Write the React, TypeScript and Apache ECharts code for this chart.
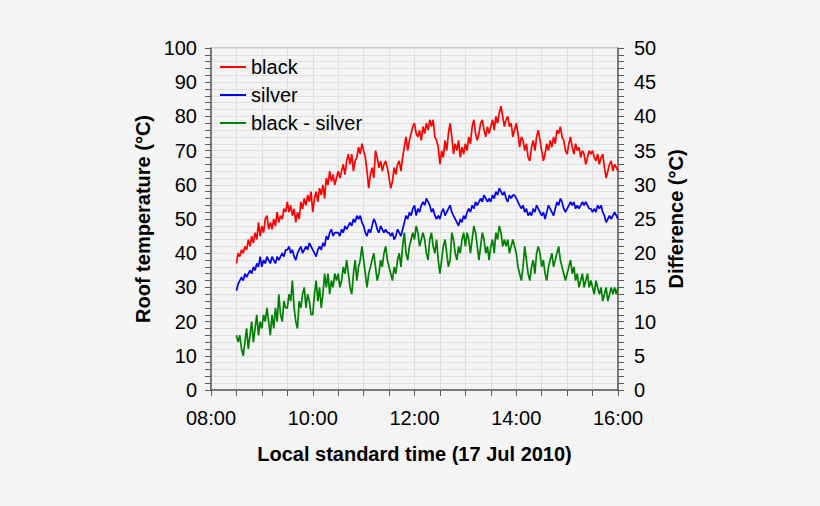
import { useEffect, useRef } from 'react';
import * as echarts from 'echarts';

// minutes after midnight of the first sample, and spacing between samples
const START_MINUTE = 510;
const STEP_MINUTES = 2;

const timeTickLabels = ['08:00', '10:00', '12:00', '14:00', '16:00'];
const seriesNames = ['black', 'silver', 'black - silver'];

// roof temperature of the black roof (°C), 08:30 to 16:00 every 2 min
const blackTemp = [
  37, 40, 39, 41, 40, 42, 41, 44, 42, 45, 43, 46, 44, 49, 45,
  48, 46, 50, 51, 47, 49, 47, 50, 48, 52, 49, 51, 50, 53, 52,
  55, 52, 54, 51, 53, 49, 52, 50, 55, 53, 56, 54, 57, 55, 58,
  52, 56, 58, 55, 59, 57, 60, 56, 62, 60, 64, 61, 63, 60, 62,
  64, 62, 64, 66, 63, 67, 69, 66, 69, 64, 67, 68, 71, 69, 72,
  70, 68, 64, 59, 63, 65, 62, 70, 68, 65, 67, 64, 66, 67, 65,
  62, 59, 61, 65, 63, 66, 67, 64, 68, 71, 74, 70, 73, 75, 77,
  78, 75, 74, 76, 73, 77, 75, 78, 76, 79, 77, 79, 74, 73, 71,
  66, 70, 68, 73, 70, 75, 78, 74, 69, 72, 70, 73, 68, 71, 69,
  72, 70, 74, 72, 77, 79, 75, 73, 75, 78, 79, 76, 74, 77, 75,
  77, 79, 76, 80, 78, 81, 83, 80, 77, 79, 80, 77, 78, 74, 76,
  78, 75, 71, 74, 73, 70, 72, 68, 67, 71, 73, 70, 74, 76, 73,
  70, 67, 69, 72, 70, 73, 71, 74, 72, 76, 75, 77, 74, 73, 70,
  69, 72, 74, 71, 69, 72, 70, 71, 68, 70, 69, 66, 68, 70, 69,
  70, 68, 67, 69, 66, 68, 69, 65, 62, 64, 66, 67, 64, 66, 65,
  64,
];

// roof temperature of the silver roof (°C)
const silverTemp = [
  29, 31, 32, 33, 32, 34, 33, 34, 35, 34, 36, 35, 37, 36, 39,
  36, 38, 37, 39, 38, 37, 39, 38, 37, 39, 38, 39, 40, 39, 41,
  41, 42, 40, 41, 39, 38, 40, 41, 42, 40, 41, 42, 41, 43, 42,
  41, 40, 39, 41, 42, 41, 43, 42, 45, 44, 46, 47, 45, 46, 46,
  46, 45, 47, 46, 48, 47, 48, 49, 48, 50, 49, 51, 50, 51, 49,
  48, 46, 45, 47, 46, 48, 50, 49, 47, 46, 48, 47, 46, 47, 46,
  46, 45, 46, 44, 45, 47, 46, 45, 47, 49, 51, 50, 52, 51, 53,
  54, 51, 53, 52, 54, 55, 54, 56, 55, 54, 52, 53, 51, 50, 51,
  50, 52, 53, 51, 52, 53, 54, 52, 51, 50, 49, 48, 50, 49, 51,
  50, 52, 53, 52, 54, 53, 55, 54, 55, 56, 55, 57, 56, 55, 56,
  55, 57, 56, 58, 57, 59, 58, 57, 58, 56, 55, 57, 56, 57, 57,
  56, 55, 54, 53, 54, 52, 53, 51, 52, 51, 53, 52, 54, 53, 52,
  51, 52, 50, 52, 54, 53, 52, 51, 53, 55, 54, 56, 55, 53, 52,
  53, 54, 55, 54, 55, 53, 54, 53, 54, 55, 54, 55, 54, 53, 53,
  52, 53, 52, 54, 53, 54, 52, 51, 49, 50, 51, 50, 51, 52, 51,
  50,
];

// black minus silver (°C), right axis
const difference = [
  8, 7, 8, 6, 5, 7, 9, 6, 8, 10, 7, 9, 11, 8, 10,
  9, 11, 10, 12, 10, 8, 11, 9, 12, 10, 14, 11, 10, 13, 12,
  12, 14, 13, 16, 12, 10, 9, 13, 12, 14, 15, 12, 14, 13, 11,
  11, 14, 16, 13, 15, 12, 14, 17, 15, 17, 14, 16, 15, 17, 16,
  17, 15, 16, 18, 17, 19, 17, 15, 14, 17, 19, 16, 18, 19, 21,
  19, 17, 15, 17, 18, 19, 20, 18, 16, 17, 19, 18, 20, 21, 19,
  18, 17, 16, 18, 17, 19, 20, 18, 21, 23, 20, 19, 21, 22, 23,
  22, 24, 23, 21, 22, 23, 22, 20, 19, 22, 23, 21, 20, 22, 19,
  17, 19, 21, 22, 20, 18, 19, 23, 22, 20, 19, 21, 20, 22, 23,
  21, 23, 22, 20, 22, 24, 23, 21, 19, 21, 23, 22, 20, 21, 19,
  21, 22, 20, 23, 22, 24, 23, 21, 22, 21, 22, 20, 21, 22, 21,
  20, 18, 17, 16, 18, 21, 19, 17, 16, 18, 19, 17, 20, 21, 20,
  18, 19, 17, 16, 18, 19, 20, 18, 19, 20, 21, 19, 18, 17, 16,
  17, 18, 19, 17, 18, 16, 17, 15, 16, 17, 15, 16, 17, 15, 16,
  15, 14, 16, 15, 14, 15, 13, 14, 15, 13, 14, 15, 14, 15, 14,
  15,
];

const FONT = 'Liberation Sans, Arial, Helvetica, sans-serif';
const AXIS_COLOR = '#5a5a5a';
const GRID_COLOR = '#e0e0e0';

function withTime(values: number[]) {
  return values.map((v, i) => [START_MINUTE + i * STEP_MINUTES, v]);
}

export default function App() {
  const chartRef = useRef<HTMLDivElement>(null);

  useEffect(() => {
    if (!chartRef.current) return;
    const chart = echarts.init(chartRef.current, null, { renderer: 'svg' });

    const axisCommon = {
      axisLine: { show: true, lineStyle: { color: AXIS_COLOR, width: 1.5 } },
      axisTick: { show: true, length: 6, lineStyle: { color: AXIS_COLOR } },
      minorTick: { show: true, length: 6, lineStyle: { color: AXIS_COLOR } },
      nameTextStyle: { fontFamily: FONT, fontSize: 20, fontWeight: 'bold' as const, color: '#000' },
    };

    chart.setOption({
      animation: false,
      backgroundColor: '#f4f4f4',
      textStyle: { fontFamily: FONT },
      grid: {
        left: 211,
        right: 202,
        top: 48,
        bottom: 116,
        show: true,
        borderColor: '#a8a8a8',
        borderWidth: 1,
        backgroundColor: '#f4f4f4',
      },
      legend: {
        orient: 'vertical',
        left: 215,
        top: 52,
        icon: 'rect',
        itemWidth: 26,
        itemHeight: 2,
        itemGap: 8,
        data: seriesNames,
        textStyle: { fontFamily: FONT, fontSize: 20, color: '#000' },
      },
      xAxis: {
        ...axisCommon,
        type: 'value',
        min: 480,
        max: 960,
        interval: 120,
        minorTick: { ...axisCommon.minorTick, splitNumber: 4 },
        splitLine: { show: true, lineStyle: { color: GRID_COLOR } },
        minorSplitLine: { show: true, lineStyle: { color: GRID_COLOR } },
        axisLabel: {
          margin: 18,
          fontFamily: FONT,
          fontSize: 20,
          color: '#000',
          formatter: (v: number) => timeTickLabels[Math.round((v - 480) / 120)] ?? '',
        },
        name: 'Local standard time (17 Jul 2010)',
        nameLocation: 'middle',
        nameGap: 54,
      },
      yAxis: [
        {
          ...axisCommon,
          type: 'value',
          min: 0,
          max: 100,
          interval: 10,
          minorTick: { ...axisCommon.minorTick, splitNumber: 5 },
          splitLine: { show: true, lineStyle: { color: GRID_COLOR } },
          minorSplitLine: { show: true, lineStyle: { color: GRID_COLOR } },
          axisLabel: { margin: 14, fontFamily: FONT, fontSize: 20, color: '#000' },
          name: 'Roof temperature (°C)',
          nameLocation: 'middle',
          nameRotate: 90,
          nameGap: 58,
        },
        {
          ...axisCommon,
          type: 'value',
          position: 'right',
          min: 0,
          max: 50,
          interval: 5,
          minorTick: { ...axisCommon.minorTick, splitNumber: 5 },
          splitLine: { show: false },
          axisLabel: { margin: 16, fontFamily: FONT, fontSize: 20, color: '#000' },
          name: 'Difference (°C)',
          nameLocation: 'middle',
          nameRotate: 90,
          nameGap: 48,
        },
      ],
      series: [
        {
          name: seriesNames[0],
          type: 'line',
          data: withTime(blackTemp),
          symbol: 'none',
          lineStyle: { color: '#ff0000', width: 1.7 },
          itemStyle: { color: '#ff0000' },
        },
        {
          name: seriesNames[1],
          type: 'line',
          data: withTime(silverTemp),
          symbol: 'none',
          lineStyle: { color: '#0000ee', width: 1.7 },
          itemStyle: { color: '#0000ee' },
        },
        {
          name: seriesNames[2],
          type: 'line',
          yAxisIndex: 1,
          data: withTime(difference),
          symbol: 'none',
          lineStyle: { color: '#008000', width: 1.7 },
          itemStyle: { color: '#008000' },
        },
      ],
    });

    return () => {
      chart.dispose();
    };
  }, []);

  return (
    <div
      ref={chartRef}
      style={{ position: 'fixed', left: 0, top: 0, width: 820, height: 506, background: '#f4f4f4' }}
    />
  );
}
